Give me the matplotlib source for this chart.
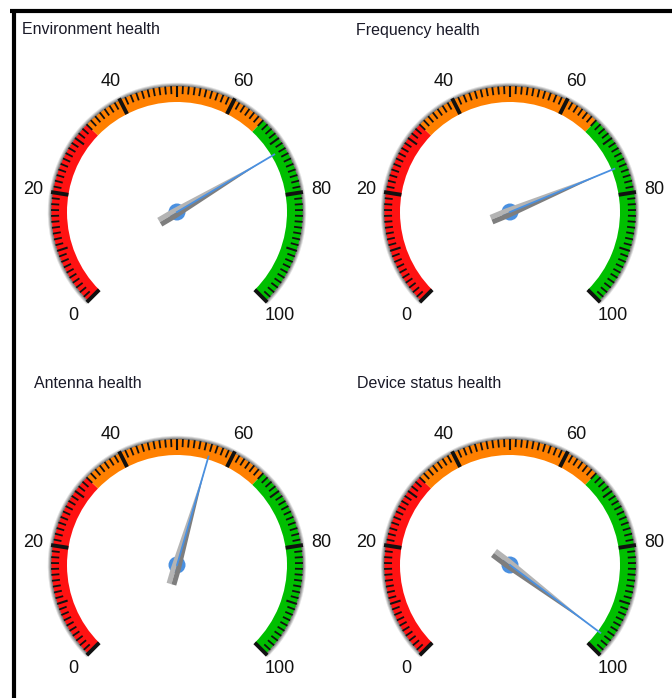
import numpy as np
import matplotlib
matplotlib.use("Agg")
import matplotlib.pyplot as plt
from matplotlib.patches import Wedge, Circle, Polygon

# Gauge data
titles = ["Environment health", "Frequency health", "Antenna health", "Device status health"]
values = [72, 75, 56, 97]
# colour zones: (start, end, colour)
zone_starts = [0, 33, 66]
zone_ends = [33, 66, 100]
zone_colors = ["#FF1212", "#FF8000", "#00BF00"]
major_ticks = [0, 20, 40, 60, 80, 100]
tick_labels = ["0", "20", "40", "60", "80", "100"]

W, H = 672, 698
fig = plt.figure(figsize=(W / 100, H / 100), dpi=100)
ax = fig.add_axes([0, 0, 1, 1])
ax.set_xlim(0, W)
ax.set_ylim(0, H)
ax.set_aspect("equal")
ax.axis("off")

# frame lines
ax.plot([10, W], [H - 11, H - 11], color="black", lw=3, solid_capstyle="butt")
ax.plot([13.5, 13.5], [0, H - 11], color="black", lw=3, solid_capstyle="butt")

centers = [(177, H - 212), (510, H - 212), (177, H - 565), (510, H - 565)]
title_pos = [(22, H - 30), (356, H - 30), (34, H - 383), (357, H - 383)]

R_IN, R_OUT = 110, 125
START, SWEEP = 225.0, 270.0


def ang(v):
    return START - SWEEP * v / 100.0


def draw_gauge(cx, cy, value):
    # soft grey rim around the band
    for i, a in enumerate([0.85, 0.65, 0.4, 0.18]):
        ax.add_patch(Wedge((cx, cy), R_OUT + 1.2 + i, ang(100) - 0.6, ang(0) + 0.6,
                           width=1.2, facecolor="#5A5A5A", edgecolor="none", alpha=a))
    # coloured zones
    for s, e, c in zip(zone_starts, zone_ends, zone_colors):
        ax.add_patch(Wedge((cx, cy), R_OUT + 0.5, ang(e), ang(s), width=R_OUT - R_IN + 0.5,
                           facecolor=c, edgecolor="none"))
    # ticks
    for v in range(0, 101):
        t = np.radians(ang(v))
        if v in major_ticks:
            r0, r1, lw = R_IN, R_OUT + 2.5, 2.8
        elif v % 10 == 0:
            r0, r1, lw = R_OUT - 10, R_OUT + 1, 1.5
        else:
            r0, r1, lw = R_OUT - 7, R_OUT + 1, 1.3
        ax.plot([cx + r0 * np.cos(t), cx + r1 * np.cos(t)],
                [cy + r0 * np.sin(t), cy + r1 * np.sin(t)],
                color="#111111", lw=lw, solid_capstyle="butt")
    # labels
    for v, lab in zip(major_ticks, tick_labels):
        t = np.radians(ang(v))
        ax.text(cx + 146 * np.cos(t), cy + 146 * np.sin(t), lab, ha="center", va="center",
                fontsize=13, family="Liberation Sans", color="#111111")
    # hub
    ax.add_patch(Circle((cx, cy), 8.5, facecolor="#4A90E0", edgecolor="none", zorder=3))
    # needle
    t = np.radians(ang(value))
    d = np.array([np.cos(t), np.sin(t)])
    n = np.array([-np.sin(t), np.cos(t)])
    c = np.array([cx, cy])
    tail = c - 20 * d
    tip = c + 102 * d
    hw = 5.0
    light = [tail + hw * n, c - 4 * d + hw * n, tip, c - 4 * d, tail]
    dark = [tail, c - 4 * d, tip, c - 4 * d - hw * n, tail - hw * n]
    ax.add_patch(Polygon(light, closed=True, facecolor="#B4B4B4", edgecolor="none", zorder=4))
    ax.add_patch(Polygon(dark, closed=True, facecolor="#7E7E7E", edgecolor="none", zorder=4))
    blue_end = c + (R_IN + 3) * d
    ax.plot([cx, blue_end[0]], [cy, blue_end[1]], color="#4A90E0", lw=1.3, zorder=5)


for (cx, cy), v in zip(centers, values):
    draw_gauge(cx, cy, v)

for (x, y), t in zip(title_pos, titles):
    ax.text(x, y, t, ha="left", va="center", fontsize=11.5, family="Liberation Sans",
            color="#1A1A28")

fig.savefig("out.png", dpi=100, facecolor="white")
